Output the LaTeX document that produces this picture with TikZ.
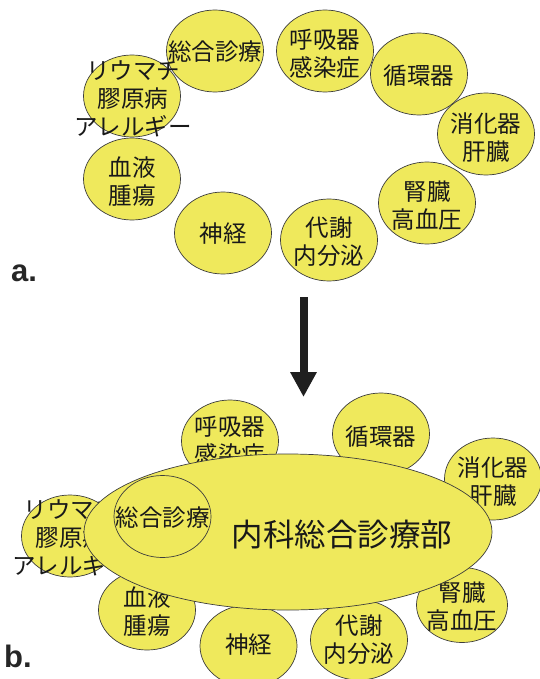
\documentclass[tikz,border=0pt]{standalone}
\usepackage{fontspec}
\newfontfamily\jp{Noto Sans CJK JP}
\newfontfamily\lab{Liberation Sans}
\usetikzlibrary{shapes.geometric,arrows.meta}
\definecolor{blobfill}{RGB}{239,233,92}
\definecolor{blobline}{RGB}{60,60,60}
\tikzset{
  blob/.style={ellipse,draw=blobline,fill=blobfill,line width=0.7pt,inner sep=0pt,
    minimum width=97pt,minimum height=82pt},
  jtext/.style={font=\jp\fontsize{23.5}{28}\selectfont,align=center,inner sep=0pt,text=black!90},
  bigtext/.style={font=\jp\fontsize{31.5}{36}\selectfont,inner sep=0pt,text=black!90},
  panel/.style={font=\lab\bfseries\fontsize{31}{36}\selectfont,anchor=base west,inner sep=0pt,text=black!85},
}
\begin{document}
\begin{tikzpicture}[x=1pt,y=-1pt]
\useasboundingbox (0,0) rectangle (539,679);
% ---------- a. ----------
\node[blob] (aSo) at (215,51) {};
\node[jtext] (aSoT) at (215,52) {総合診療};
\node[blob] (aRi) at (132,96) {};
\node[blob] (aKo) at (325,51) {};
\node[jtext] (aKoT) at (325,54) {呼吸器\\感染症};
\node[blob] (aJu) at (419,74) {};
\node[jtext] (aJuT) at (419,76) {循環器};
\node[blob] (aSh) at (486,134) {};
\node[jtext] (aShT) at (486,138) {消化器\\肝臓};
\node[blob] (aJi) at (427,203) {};
\node[jtext] (aJiT) at (427,206) {腎臓\\高血圧};
\node[blob] (aTa) at (329,240) {};
\node[jtext] (aTaT) at (329,242) {代謝\\内分泌};
\node[blob] (aSk) at (223,233) {};
\node[jtext] (aSkT) at (223,234) {神経};
\node[blob] (aKe) at (132,179) {};
\node[jtext] (aKeT) at (132,182) {血液\\腫瘍};
\node[jtext] (aRiT) at (133,99) {リウマチ\\膠原病\\アレルギー};
\node[panel] (la) at (11,281) {a.};
% ---------- arrow ----------
\coordinate (arrS) at (303.5,297);
\coordinate (arrE) at (303.5,397);
\draw[line width=8pt,black!88,-{Triangle[width=25pt,length=25pt]}] (arrS) -- (arrE);
% ---------- b. ----------
\node[blob] (bKo) at (230,441) {};
\node[jtext] (bKoT) at (230,441) {呼吸器\\感染症};
\node[blob] (bJu) at (381,434) {};
\node[jtext] (bJuT) at (381,437) {循環器};
\node[blob] (bSh) at (493,479) {};
\node[jtext] (bShT) at (493,482) {消化器\\肝臓};
\node[blob] (bRi) at (70,536) {};
\node[jtext] (bRiT) at (71,538) {リウマチ\\膠原病\\アレルギー};
\node[blob,minimum height=80pt] (bKe) at (147,610) {};
\node[jtext] (bKeT) at (147,612) {血液\\腫瘍};
\node[blob] (bSk) at (248.5,646) {};
\node[jtext] (bSkT) at (248.5,645) {神経};
\node[blob,minimum height=80pt] (bTa) at (359,640) {};
\node[jtext] (bTaT) at (359,640) {代謝\\内分泌};
\node[blob,minimum width=91pt,minimum height=75pt] (bJi) at (462,605) {};
\node[jtext] (bJiT) at (462,607) {腎臓\\高血圧};
\node[blob,minimum width=408pt,minimum height=156pt] (big) at (288,532) {};
\node[blob] (bSo) at (162.5,516.5) {};
\node[jtext] (bSoT) at (162.5,518) {総合診療};
\node[bigtext] (bigT) at (342,535) {内科総合診療部};
\node[panel] (lb) at (4,667) {b.};
\end{tikzpicture}
\end{document}
